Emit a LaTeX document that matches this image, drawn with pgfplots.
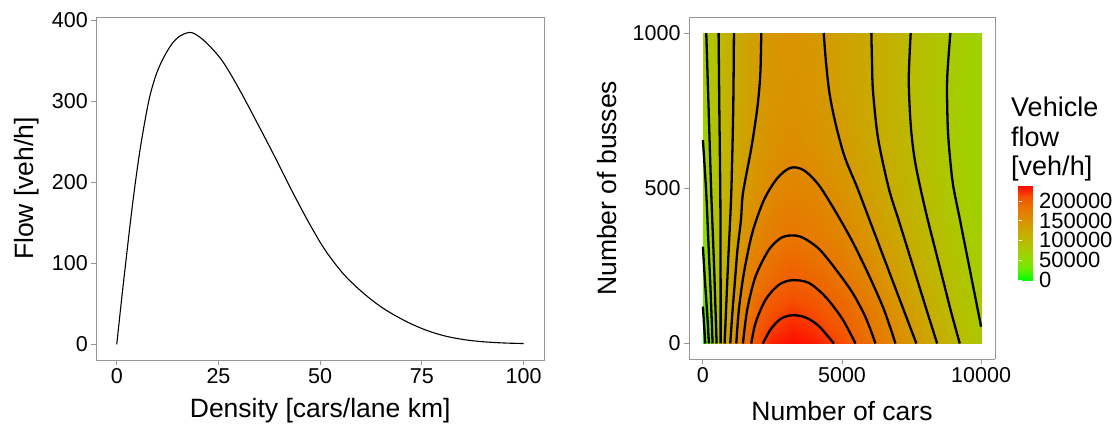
\documentclass[border=0pt]{standalone}
\usepackage{fontspec}
\setmainfont{Liberation Sans}
\usepackage{pgfplots}
\pgfplotsset{compat=1.18}

\definecolor{framegray}{RGB}{150,150,150}

\pgfplotsset{
  panel/.style={
    scale only axis, anchor=south west,
    axis line style={framegray, line width=0.9pt},
    tick style={framegray, line width=0.9pt},
    tick align=outside, major tick length=5pt,
    tick pos=left,
    /pgf/number format/fixed,
    /pgf/number format/assume math mode=true,
    /pgf/number format/1000 sep={},
    scaled ticks=false,
    ticklabel style={font=\fontsize{21.5}{24}\selectfont},
    label style={font=\fontsize{26.5}{30}\selectfont},
  },
  cont/.style={black, line width=2.3pt, smooth, line join=round},
}

\begin{document}
\begin{tikzpicture}
\path[use as bounding box] (0,0) rectangle (1113pt,429pt);

% left panel: flow-density curve
\begin{axis}[panel,
  at={(96.4pt,69pt)}, width=447.6pt, height=343pt,
  xmin=-5, xmax=105, ymin=-19.25, ymax=404.25,
  xtick={0,25,50,75,100}, ytick={0,100,200,300,400},
  xlabel={Density [cars/lane km]}, ylabel={Flow [veh/h]},
  xlabel style={at={(axis description cs:0.5,-0.149)}, anchor=center},
  ylabel style={at={(axis description cs:-0.155,0.5)}, anchor=center},
]
\addplot[black, line width=1.1pt, smooth] table {
k q
0 0
1.2 56
2.3 105
3.4 153
4.5 197
5.9 246
7.8 299
9.4 329
11.1 350
13.4 370
15.6 381
18.4 385
21.7 374
25.8 351
29.9 317
35.3 266
38.5 235
42.6 194
46.7 155
50 126
52.4 108
55.7 87
59 70.5
62.3 56.3
65.5 44.5
68.8 34.6
72.1 26
75 19.6
78 14.2
81 10
84 7
87 4.8
90 3.3
93 2.3
96 1.6
100 1.1
};
\end{axis}

% right panel: vehicle flow over cars and busses
\begin{axis}[panel, name=R,
  at={(689pt,70pt)}, width=306pt, height=341.5pt,
  view={0}{90}, ztick=\empty,
  xmin=-500, xmax=10500, ymin=-50, ymax=1050,
  xtick={0,5000,10000}, ytick={0,500,1000},
  xlabel={Number of cars}, ylabel={Number of busses},
  xlabel style={at={(axis description cs:0.5,-0.152)}, anchor=center},
  ylabel style={at={(axis description cs:-0.268,0.5)}, anchor=center},
  colormap={ggrg}{rgb255=(0,255,0) rgb255=(112,235,0) rgb255=(152,215,0)
    rgb255=(179,194,0) rgb255=(200,171,0) rgb255=(218,146,0)
    rgb255=(232,118,0) rgb255=(244,83,0) rgb255=(255,0,0)},
  point meta min=0, point meta max=240000,
  colorbar,
  colorbar style={
    at={(parent axis.south east)}, anchor=south west,
    xshift=15pt, yshift=79pt,
    width=19pt, height=95pt,
    ytick={0,50000,100000,150000,200000},
    major tick length=3.5pt, tick align=inside,
    ytick style={white, line width=0.6pt},
    ytick pos=both, yticklabel pos=right,
    axis line style={draw=none},
    scaled y ticks=false,
    /pgf/number format/fixed,
    /pgf/number format/1000 sep={},
    /pgf/number format/assume math mode=true,
    yticklabel style={font=\fontsize{22}{24}\selectfont, xshift=-2pt},
  },
]
\addplot3[surf, shader=interp, mesh/rows=8, mesh/cols=16] table {
c b f
0 0 0
150 0 30000
400 0 67000
700 0 109000
1000 0 141000
1500 0 184000
2000 0 213000
2500 0 227000
3200 0 235000
4000 0 230000
5000 0 213000
6000 0 186000
7000 0 157000
8000 0 131000
9000 0 106000
10000 0 82000
0 100 17000
150 100 40000
400 100 73000
700 100 106000
1000 100 135000
1500 100 175000
2000 100 198000
2500 100 210000
3200 100 219000
4000 100 212000
5000 100 196000
6000 100 176000
7000 100 148000
8000 100 122000
9000 100 98000
10000 100 78000
0 200 28000
150 200 49000
400 200 78000
700 200 105000
1000 200 129000
1500 200 163000
2000 200 183000
2500 200 192000
3200 200 201000
4000 200 194000
5000 200 183000
6000 200 163000
7000 200 136000
8000 200 114000
9000 200 93000
10000 200 74000
0 350 42000
150 350 58000
400 350 83000
700 350 104000
1000 350 124000
1500 350 149000
2000 350 164000
2500 350 173000
3200 350 180000
4000 350 174000
5000 350 164000
6000 350 145000
7000 350 124000
8000 350 105000
9000 350 86000
10000 350 70000
0 500 51000
150 500 66000
400 500 86000
700 500 103000
1000 500 120000
1500 500 141000
2000 500 151000
2500 500 160000
3200 500 165000
4000 500 162000
5000 500 149000
6000 500 132000
7000 500 114000
8000 500 97000
9000 500 80000
10000 500 66000
0 650 60000
150 650 73000
400 650 89000
700 650 104000
1000 650 118000
1500 650 132000
2000 650 143000
2500 650 150000
3200 650 155000
4000 650 150000
5000 650 140000
6000 650 125000
7000 650 109000
8000 650 93000
9000 650 78000
10000 650 66000
0 800 66000
150 800 77000
400 800 90000
700 800 104000
1000 800 117000
1500 800 129000
2000 800 140000
2500 800 146000
3200 800 150000
4000 800 146000
5000 800 134000
6000 800 122000
7000 800 107000
8000 800 91000
9000 800 77000
10000 800 65000
0 1000 70000
150 1000 81000
400 1000 93000
700 1000 105000
1000 1000 116000
1500 1000 128000
2000 1000 138000
2500 1000 144000
3200 1000 148000
4000 1000 143000
5000 1000 132000
6000 1000 121000
7000 1000 107000
8000 1000 93000
9000 1000 79000
10000 1000 66000
};
% contour lines, 20000 veh/h apart
\addplot[cont] coordinates {(0,119) (45,55) (84,0)};
\addplot[cont] coordinates {(0,312) (60,220) (120,140) (175,65) (216,0)};
\addplot[cont] coordinates {(0,655) (120,484) (200,320) (280,160) (348,0)};
\addplot[cont] coordinates {(120,1000) (205,757) (300,484) (400,250) (492,0)};
\addplot[cont] coordinates {(564,1000) (590,757) (625,484) (635,250) (636,0)};
\addplot[cont] coordinates {(1115,1000) (1090,757) (1019,484) (900,250) (780,0)};
\addplot[cont] coordinates {(2098,1000) (2062,865) (1953,757) (1739,629) (1439,484) (1370,400) (1240,300) (1150,200) (1060,100) (983,0)};
\addplot[cont] coordinates {(1199,0) (1293,109) (1473,227) (1772,355) (2192,462) (2671,532) (3150,566) (3629,558) (4168,510) (4766,425) (5365,330) (5964,220) (6503,110) (6922,0)};
\addplot[cont] coordinates {(1439,0) (1593,109) (1892,216) (2371,302) (2790,339) (3150,348) (3569,342) (4168,305) (4766,240) (5365,165) (5844,85) (6204,0)};
\addplot[cont] coordinates {(1739,0) (1892,66) (2251,141) (2731,189) (3210,204) (3808,195) (4407,150) (5006,80) (5485,0)};
\addplot[cont] coordinates {(2158,0) (2431,45) (2790,79) (3210,91) (3689,84) (4168,56) (4707,0)};
\addplot[cont] coordinates {(4342,1000) (4430,900) (4560,800) (4790,700) (5100,600) (5557,500) (5980,400) (6403,300) (6826,200) (7250,100) (7673,0)};
\addplot[cont] coordinates {(6055,1000) (6080,900) (6115,811) (6295,661) (6680,500) (7027,400) (7374,300) (7721,200) (8068,100) (8420,0)};
\addplot[cont] coordinates {(7470,1000) (7400,850) (7470,704) (7600,600) (7795,510) (8077,400) (8360,300) (8643,200) (8926,100) (9234,0)};
\addplot[cont] coordinates {(8896,1000) (8780,850) (8800,700) (8880,600) (8993,510) (9236,400) (9457,300) (9678,200) (9899,100) (10000,54)};
\end{axis}

\node[anchor=base west, inner sep=0pt, font=\fontsize{27}{30}\selectfont] at (1011pt,312pt) {Vehicle};
\node[anchor=base west, inner sep=0pt, font=\fontsize{27}{30}\selectfont] at (1011pt,282pt) {flow};
\node[anchor=base west, inner sep=0pt, font=\fontsize{27}{30}\selectfont] at (1011pt,254pt) {[veh/h]};
\end{tikzpicture}
\end{document}
